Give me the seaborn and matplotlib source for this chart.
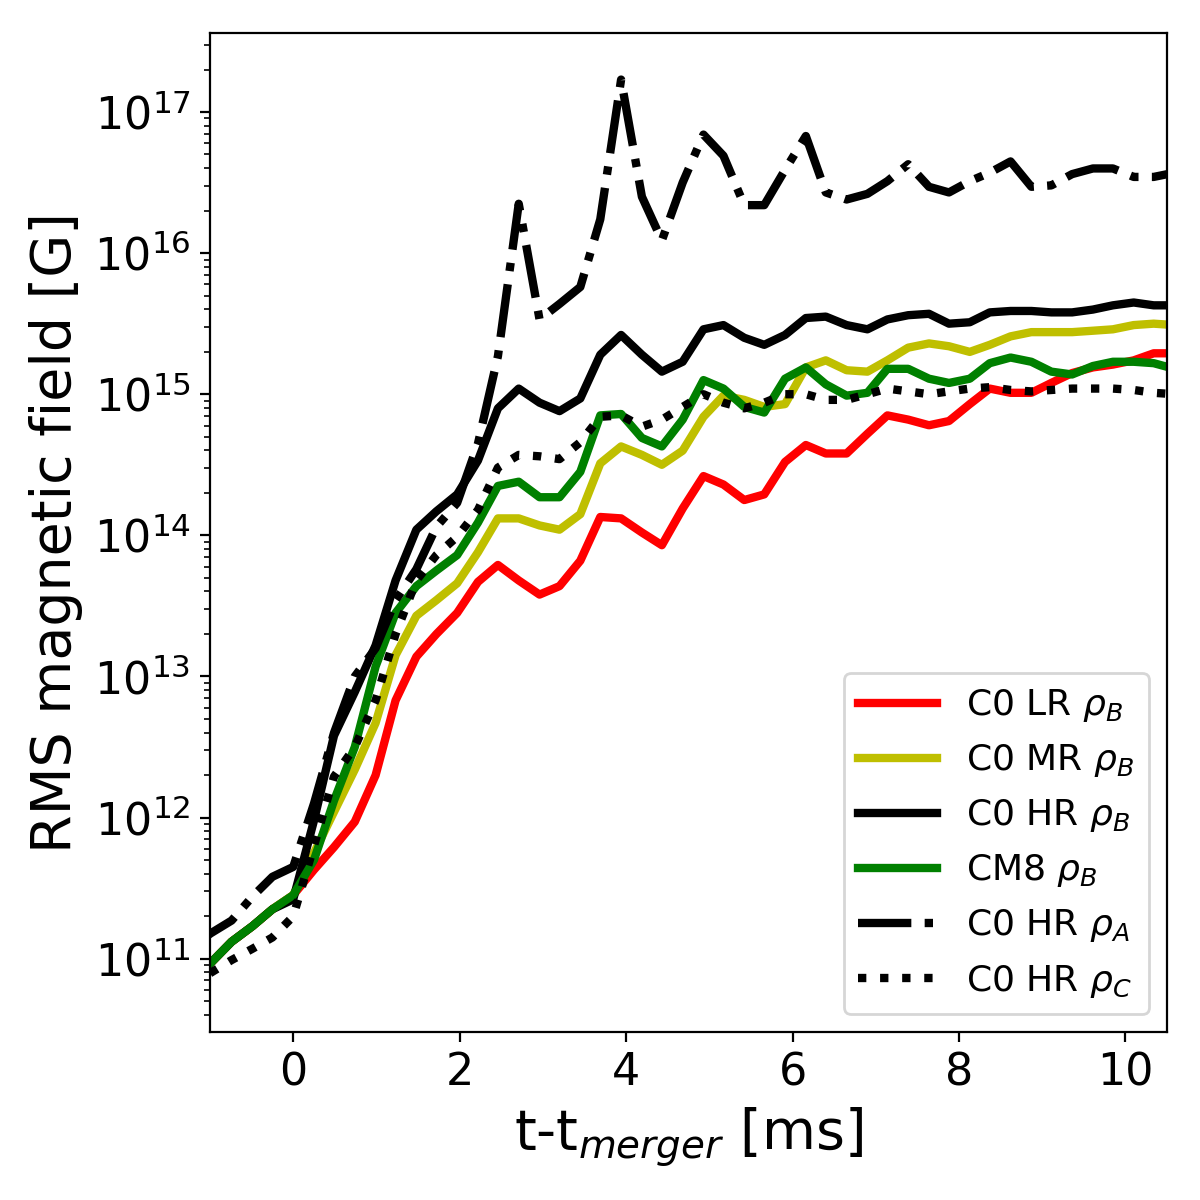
import numpy as np
import pandas as pd
import matplotlib
matplotlib.use("Agg")
import matplotlib.pyplot as plt
import seaborn as sns

# time after merger [ms]
time_ms = [-1.23, -0.99, -0.74, -0.49, -0.25, 0.00, 0.25, 0.49, 0.74, 0.99,
           1.23, 1.48, 1.72, 1.97, 2.22, 2.46, 2.71, 2.96, 3.20, 3.45,
           3.69, 3.94, 4.19, 4.43, 4.68, 4.93, 5.17, 5.42, 5.66, 5.91,
           6.16, 6.40, 6.65, 6.90, 7.14, 7.39, 7.64, 7.88, 8.13, 8.37,
           8.62, 8.87, 9.11, 9.36, 9.61, 9.85, 10.10, 10.34, 10.59]

# log10 of the RMS field [G]
logB_c0_lr = [10.86, 10.97, 11.12, 11.23, 11.35, 11.45, 11.63, 11.79, 11.97, 12.30,
              12.83, 13.14, 13.30, 13.45, 13.67, 13.79, 13.68, 13.58, 13.64, 13.82,
              14.13, 14.12, 14.02, 13.93, 14.19, 14.42, 14.36, 14.25, 14.29, 14.52,
              14.64, 14.58, 14.58, 14.72, 14.85, 14.82, 14.78, 14.81, 14.93, 15.04,
              15.01, 15.01, 15.08, 15.15, 15.19, 15.21, 15.24, 15.29, 15.29]

logB_c0_mr = [10.86, 10.97, 11.12, 11.23, 11.35, 11.45, 11.75, 12.04, 12.34, 12.67,
              13.15, 13.43, 13.54, 13.66, 13.88, 14.12, 14.12, 14.07, 14.04, 14.15,
              14.51, 14.63, 14.57, 14.50, 14.60, 14.84, 14.99, 14.96, 14.91, 14.93,
              15.19, 15.24, 15.17, 15.16, 15.24, 15.33, 15.36, 15.34, 15.30, 15.35,
              15.41, 15.44, 15.44, 15.44, 15.45, 15.46, 15.49, 15.50, 15.49]

logB_c0_hr = [10.86, 10.97, 11.12, 11.23, 11.35, 11.42, 11.98, 12.58, 12.89, 13.22,
              13.68, 14.04, 14.17, 14.29, 14.53, 14.90, 15.04, 14.94, 14.88, 14.97,
              15.28, 15.42, 15.28, 15.16, 15.23, 15.46, 15.49, 15.40, 15.35, 15.42,
              15.54, 15.55, 15.49, 15.46, 15.53, 15.56, 15.57, 15.50, 15.51, 15.58,
              15.59, 15.59, 15.58, 15.58, 15.60, 15.63, 15.65, 15.63, 15.63]

logB_cm8 = [10.86, 10.97, 11.12, 11.23, 11.35, 11.45, 11.70, 12.12, 12.50, 13.07,
            13.45, 13.64, 13.75, 13.86, 14.09, 14.35, 14.38, 14.27, 14.27, 14.45,
            14.85, 14.86, 14.69, 14.63, 14.82, 15.10, 15.04, 14.91, 14.87, 15.11,
            15.19, 15.07, 14.99, 15.01, 15.18, 15.18, 15.11, 15.08, 15.11, 15.22,
            15.26, 15.23, 15.16, 15.14, 15.20, 15.23, 15.23, 15.22, 15.18]

logB_c0_hr_a = [11.08, 11.18, 11.27, 11.44, 11.58, 11.65, 12.10, 12.60, 13.00, 13.20,
                13.54, 13.76, 14.06, 14.23, 14.65, 15.27, 16.35, 15.53, 15.64, 15.76,
                16.24, 17.23, 16.40, 16.09, 16.50, 16.84, 16.69, 16.34, 16.34, 16.59,
                16.83, 16.43, 16.38, 16.42, 16.51, 16.63, 16.47, 16.43, 16.51, 16.57,
                16.65, 16.47, 16.48, 16.56, 16.60, 16.60, 16.54, 16.54, 16.57]

logB_c0_hr_c = [10.82, 10.90, 10.99, 11.07, 11.15, 11.30, 11.80, 12.29, 12.50, 12.83,
                13.30, 13.68, 13.86, 13.99, 14.18, 14.48, 14.57, 14.56, 14.54, 14.66,
                14.84, 14.85, 14.77, 14.82, 14.91, 15.00, 14.94, 14.90, 14.94, 15.00,
                15.00, 14.96, 14.96, 15.00, 15.04, 15.02, 15.00, 15.02, 15.04, 15.05,
                15.03, 15.02, 15.03, 15.04, 15.04, 15.04, 15.03, 15.01, 15.00]

labels = [r'C0 LR $\rho_B$', r'C0 MR $\rho_B$', r'C0 HR $\rho_B$',
          r'CM8 $\rho_B$', r'C0 HR $\rho_A$', r'C0 HR $\rho_C$']
colors = ['r', 'y', 'k', 'g', 'k', 'k']
styles = ['-', '-', '-', '-', '-.', ':']
curves = [logB_c0_lr, logB_c0_mr, logB_c0_hr, logB_cm8, logB_c0_hr_a, logB_c0_hr_c]

sns.set_style("ticks", rc={
    "axes.edgecolor": "black",
    "axes.labelcolor": "black",
    "text.color": "black",
    "xtick.color": "black",
    "ytick.color": "black",
    "xtick.major.size": 3.5,
    "ytick.major.size": 3.5,
    "xtick.minor.size": 2,
    "ytick.minor.size": 2,
    "lines.solid_capstyle": "projecting",
})
plt.rcParams['font.family'] = ['DejaVu Sans']

fig, ax = plt.subplots(figsize=(6, 6), dpi=200)
fig.subplots_adjust(left=0.175, right=0.9725, bottom=0.14, top=0.9725)

for lab, vals, col, ls in zip(labels, curves, colors, styles):
    df = pd.DataFrame({'t': time_ms, 'B': 10 ** np.array(vals)})
    sns.lineplot(data=df, x='t', y='B', ax=ax, color=col, linestyle=ls,
                 lw=3, label=lab, estimator=None, sort=False)

ax.set_yscale('log')
ax.set_xlim(-1, 10.5)
ax.set_ylim(10 ** 10.48, 10 ** 17.56)
ax.set_xticks([0, 2, 4, 6, 8, 10])
ax.tick_params(labelsize=16)
ax.set_xlabel(r't-t$_{merger}$ [ms]', fontsize=20)
ax.set_ylabel('RMS magnetic field [G]', fontsize=20)
ax.legend(loc='lower right', fontsize=13, handlelength=2.2)

fig.savefig('out.png', dpi=200)
